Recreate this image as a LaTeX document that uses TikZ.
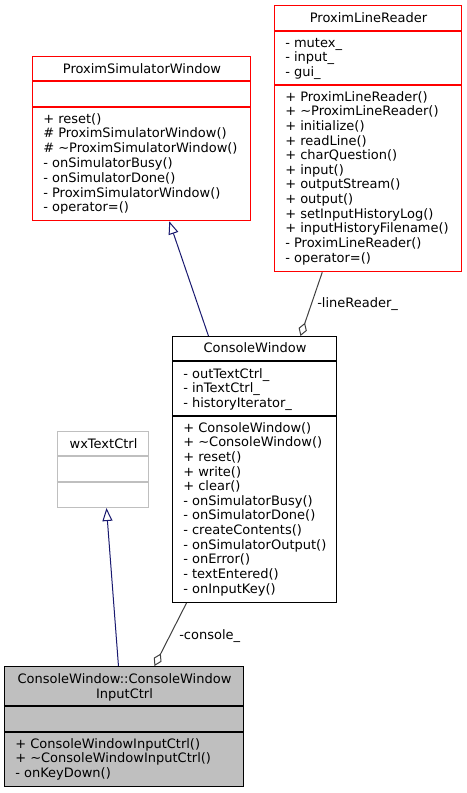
\documentclass[tikz,border=0pt]{standalone}
\usepackage{fontspec}
\setmainfont{DejaVu Sans}
\usetikzlibrary{arrows.meta,calc,fit}
\definecolor{edgeblue}{RGB}{25,25,112}
\definecolor{edgegray}{RGB}{64,64,64}
\definecolor{lightgr}{RGB}{191,191,191}
\definecolor{boxred}{RGB}{255,0,0}
\begin{document}
\begin{tikzpicture}[x=0.75pt,y=-0.75pt,
  every node/.style={font=\fontsize{9.75pt}{11pt}\selectfont},
  box/.style={draw, line width=0.8pt, inner sep=0pt, fill=white},
  redbox/.style={box, draw=boxred, line width=1.1pt},
  sepline/.style={line width=0.8pt},
  redsep/.style={draw=boxred, line width=1.1pt},
  mem/.style={anchor=base west, inner sep=0pt},
  ttl/.style={anchor=base, inner sep=0pt},
  inh/.style={draw=edgeblue, line width=0.75pt, -{Triangle[open, length=9.75pt, width=7.5pt]}},
  agg/.style={draw=edgegray, line width=0.75pt, -{Diamond[open, length=10.5pt, width=6.5pt]}},
  lbl/.style={anchor=base west, inner sep=0pt}]
\fill[white] (0,0) rectangle (467,793);
\useasboundingbox (0,0) rectangle (467,793);

% box frames
\node[redbox, fit={(32.5,56.5) (250.5,220.5)}] (psw) {};
\node[redbox, fit={(274.5,5.5) (461.5,271.5)}] (plr) {};
\node[box, draw=black, fit={(172.5,336.5) (336.5,602.5)}] (cw) {};
\node[box, draw=lightgr, fit={(57.5,431.5) (148.5,507.5)}] (wx) {};
\node[box, draw=black, fill=lightgr, fit={(4.5,666.5) (243.5,786.5)}] (cwic) {};

% separators
\draw[redsep] ($(psw.north west)+(0,25)$) -- ($(psw.north east)+(0,25)$);
\draw[redsep] ($(psw.north west)+(0,51)$) -- ($(psw.north east)+(0,51)$);
\draw[redsep] ($(plr.north west)+(0,26)$) -- ($(plr.north east)+(0,26)$);
\draw[redsep] ($(plr.north west)+(0,80)$) -- ($(plr.north east)+(0,80)$);
\draw[sepline, black] ($(cw.north west)+(0,25)$) -- ($(cw.north east)+(0,25)$);
\draw[sepline, black] ($(cw.north west)+(0,80)$) -- ($(cw.north east)+(0,80)$);
\draw[sepline, lightgr] ($(wx.north west)+(0,25)$) -- ($(wx.north east)+(0,25)$);
\draw[sepline, lightgr] ($(wx.north west)+(0,51)$) -- ($(wx.north east)+(0,51)$);
\draw[sepline, black] ($(cwic.north west)+(0,40)$) -- ($(cwic.north east)+(0,40)$);
\draw[sepline, black] ($(cwic.north west)+(0,66)$) -- ($(cwic.north east)+(0,66)$);

% ProximSimulatorWindow texts
\node[ttl] (pswt) at (142,73.3) {ProximSimulatorWindow};
\foreach \t [count=\i from 0] in {+ reset(),\# ProximSimulatorWindow(),\# \textasciitilde ProximSimulatorWindow(),- onSimulatorBusy(),- onSimulatorDone(),- ProximSimulatorWindow(),- operator=()}
  {\node[mem] (pswm\i) at (43,123.1+14.8*\i) {\t};}

% ProximLineReader texts
\node[ttl] (plrt) at (368.5,22) {ProximLineReader};
\foreach \t [count=\i from 0] in {- mutex\_,- input\_,- gui\_}
  {\node[mem] (plra\i) at (285,47.1+14.6*\i) {\t};}
\foreach \t [count=\i from 0] in {+ ProximLineReader(),+ \textasciitilde ProximLineReader(),+ initialize(),+ readLine(),+ charQuestion(),+ input(),+ outputStream(),+ output(),+ setInputHistoryLog(),+ inputHistoryFilename(),- ProximLineReader(),- operator=()}
  {\node[mem] (plrm\i) at (285,101.1+14.64*\i) {\t};}

% ConsoleWindow texts
\node[ttl] (cwt) at (255,352.7) {ConsoleWindow};
\foreach \t [count=\i from 0] in {- outTextCtrl\_,- inTextCtrl\_,- historyIterator\_}
  {\node[mem] (cwa\i) at (183,378.1+14.6*\i) {\t};}
\foreach \t [count=\i from 0] in {+ ConsoleWindow(),+ \textasciitilde ConsoleWindow(),+ reset(),+ write(),+ clear(),- onSimulatorBusy(),- onSimulatorDone(),- createContents(),- onSimulatorOutput(),- onError(),- textEntered(),- onInputKey()}
  {\node[mem] (cwm\i) at (183,432.1+14.64*\i) {\t};}

% wxTextCtrl text
\node[ttl] (wxt) at (103.5,448.7) {wxTextCtrl};

% ConsoleWindow::ConsoleWindowInputCtrl texts
\node[ttl] (cwict1) at (124.5,683.7) {ConsoleWindow::ConsoleWindow};
\node[ttl] (cwict2) at (124.5,698.7) {InputCtrl};
\foreach \t [count=\i from 0] in {+ ConsoleWindowInputCtrl(),+ \textasciitilde ConsoleWindowInputCtrl(),- onKeyDown()}
  {\node[mem] (cwicm\i) at (15,748.1+14.6*\i) {\t};}

% connectors
\draw[inh] ($(cw.north west)+(36.5,0)$) -- ($(psw.south west)+(137.5,0)$);
\draw[agg] ($(plr.south west)+(48.5,0)$) -- ($(cw.north west)+(128.5,0)$);
\node[lbl] (lblr) at (317,307.5) {-lineReader\_};
\draw[inh] ($(cwic.north west)+(114.5,0)$) -- ($(wx.south west)+(49.5,0)$);
\draw[agg] ($(cw.south west)+(14.5,0)$) -- ($(cwic.north west)+(150.5,0)$);
\node[lbl] (lblc) at (179,639.5) {-console\_};
\end{tikzpicture}
\end{document}
